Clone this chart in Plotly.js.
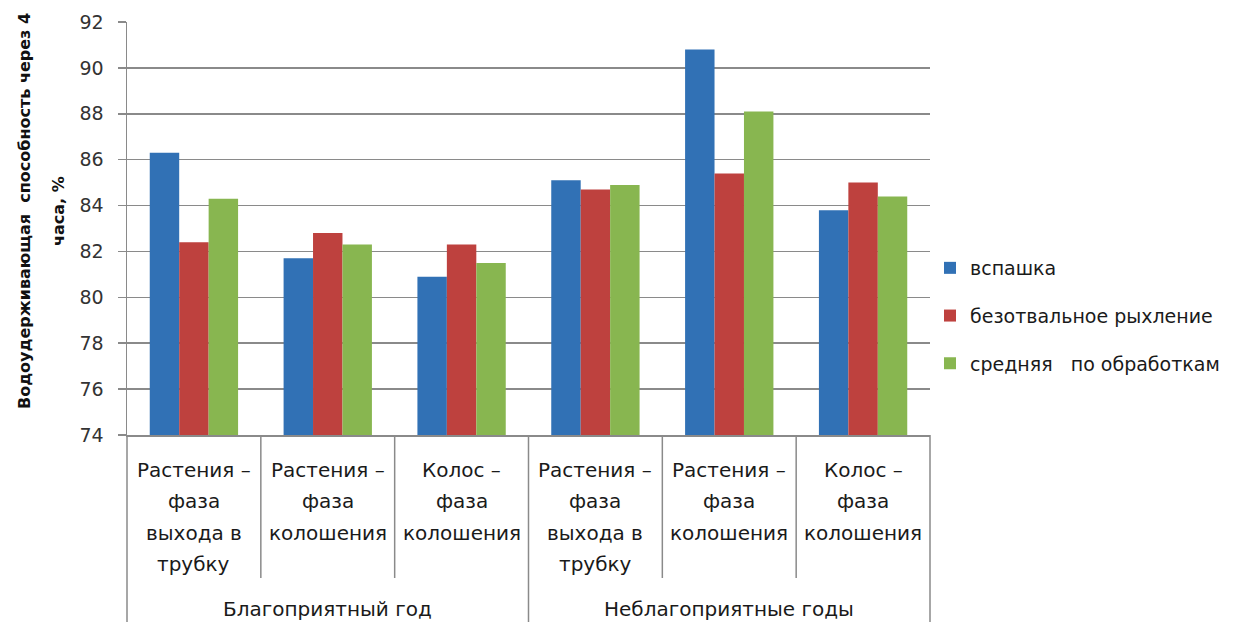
<!DOCTYPE html>
<html>
<head>
<meta charset="utf-8">
<script src="https://cdn.plot.ly/plotly-3.0.1.min.js"></script>
<style>
  html, body { margin: 0; padding: 0; background: #fff; }
  #chart { width: 1237px; height: 622px; }
</style>
</head>
<body>
<div id="chart"></div>
<script>
// Water-holding capacity after 4 hours, % — by growth stage, year type and tillage
const groups = ['Благоприятный год', 'Неблагоприятные годы'];
const stageLines = [
  ['Растения –', 'фаза', 'выхода в', 'трубку'],
  ['Растения –', 'фаза', 'колошения'],
  ['Колос –', 'фаза', 'колошения']
];
const seriesNames = ['вспашка', 'безотвальное рыхление', 'средняя   по обработкам'];
const plowing    = [86.3, 81.7, 80.9, 85.1, 90.8, 83.8];
const subsurface = [82.4, 82.8, 82.3, 84.7, 85.4, 85.0];
const average    = [84.3, 82.3, 81.5, 84.9, 88.1, 84.4];
const yTitleLines = ['Водоудерживающая  способность через 4', 'часа, %'];

const FONT = 'DejaVu Sans';
const GRID = '#8a8a8a';
const barColors = ['#3171B5', '#BE413E', '#88B650'];

// one category key per (year type, stage) pair
const keys = [];
const keyStage = [];
groups.forEach(g => stageLines.forEach((s, j) => { keys.push(g + ' / ' + s.join(' ')); keyStage.push(j); }));

const values = [plowing, subsurface, average];
const traces = values.map((v, t) => ({
  type: 'bar',
  x: keys,
  y: v,
  name: seriesNames[t],
  legendgroup: 'g' + t,
  marker: { color: barColors[t], line: { width: 0 } },
  hoverinfo: 'skip'
}));

const plotTop = 22, plotBottom = 435, plotH = plotBottom - plotTop;

const annotations = [];
// stage labels under each category
keys.forEach((k, i) => {
  stageLines[keyStage[i]].forEach((line, li) => {
    annotations.push({
      x: k, xref: 'x', y: 0, yref: 'paper',
      text: line, showarrow: false,
      xanchor: 'center', yanchor: 'middle',
      yshift: -(35 + 31.3 * li),
      font: { family: FONT, size: 20, color: '#1a1a1a' }
    });
  });
});
// year-type labels centred under each block of three stages
groups.forEach((g, gi) => {
  annotations.push({
    x: keys[gi * 3 + 1], xref: 'x', y: 0, yref: 'paper',
    text: g, showarrow: false,
    xanchor: 'center', yanchor: 'middle',
    yshift: -174,
    font: { family: FONT, size: 20, color: '#1a1a1a' }
  });
});
// rotated two-line y-axis title
[24, 58].forEach((px, li) => {
  annotations.push({
    x: (px - 127) / 803, xref: 'paper', y: (plotBottom - 211) / plotH, yref: 'paper',
    text: yTitleLines[li], showarrow: false, textangle: -90,
    xanchor: 'center', yanchor: 'middle',
    font: { family: FONT, size: 16, color: '#111', weight: 'bold' }
  });
});

// category separators below the axis
const shapes = [];
[1, 2, 4, 5].forEach(i => shapes.push({
  type: 'line', xref: 'x', yref: 'paper',
  x0: i - 0.5, x1: i - 0.5, y0: 0, y1: -143 / plotH,
  line: { color: GRID, width: 1.5 }
}));
[0, 0.5, 1].forEach(p => shapes.push({
  type: 'line', xref: 'paper', yref: 'paper',
  x0: p, x1: p, y0: 0, y1: -200 / plotH,
  line: { color: GRID, width: 1.5 }
}));

const layout = {
  width: 1237, height: 622, autosize: false,
  margin: { l: 127, r: 307, t: plotTop, b: 622 - plotBottom, pad: 0, autoexpand: false },
  paper_bgcolor: '#fff', plot_bgcolor: '#fff',
  barmode: 'group', bargap: 0.34, bargroupgap: 0,
  showlegend: true,
  legend: {
    x: 1.0, xanchor: 'left', y: (plotBottom - 316) / plotH, yanchor: 'middle',
    font: { family: FONT, size: 19, color: '#1a1a1a' },
    traceorder: 'grouped', tracegroupgap: 20,
    bgcolor: 'rgba(0,0,0,0)'
  },
  xaxis: {
    type: 'category', showticklabels: false, ticks: '',
    showline: true, linecolor: GRID, linewidth: 1.5,
    showgrid: false, zeroline: false, fixedrange: true
  },
  yaxis: {
    range: [74, 92], tick0: 74, dtick: 2,
    showgrid: true, gridcolor: GRID, gridwidth: 1.5,
    showline: true, linecolor: GRID, linewidth: 1.5,
    ticks: 'outside', ticklen: 8, tickcolor: GRID, tickwidth: 1.5,
    ticklabelstandoff: 10,
    tickfont: { family: FONT, size: 19, color: '#333' },
    zeroline: false, fixedrange: true
  },
  annotations: annotations,
  shapes: shapes
};

Plotly.newPlot('chart', traces, layout, { staticPlot: true, displayModeBar: false });
</script>
</body>
</html>
